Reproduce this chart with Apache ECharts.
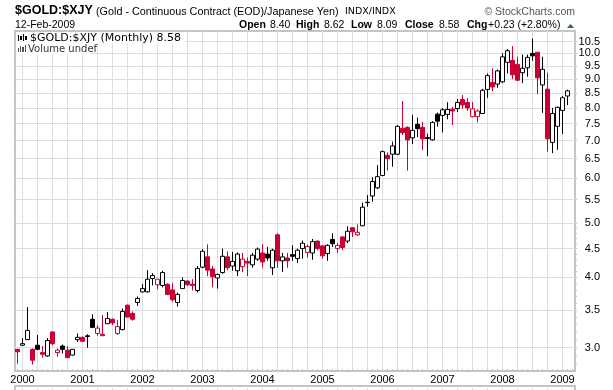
<!DOCTYPE html>
<html>
<head>
<meta charset="utf-8">
<style>html,body{margin:0;padding:0;background:#fff}#chart{width:613px;height:390px}</style>
<script src="https://cdn.jsdelivr.net/npm/echarts@6/dist/echarts.min.js"></script>
</head>
<body>
<div id="chart"></div>
<script>
// monthly bars, Dec 1999 to Feb 2009
const opens = [2.98,3.03,3.10,2.98,3.03,2.94,2.90,3.20,2.94,3.02,2.97,2.91,3.10,3.13,3.14,3.37,3.18,3.17,3.31,3.37,3.18,3.23,3.57,3.45,3.61,3.77,3.77,3.98,3.88,3.87,3.89,3.80,3.61,3.82,3.94,3.89,3.79,4.17,4.35,4.14,3.99,4.08,4.35,4.19,4.11,4.18,4.27,4.21,4.31,4.42,4.40,4.16,4.76,4.28,4.33,4.39,4.32,4.50,4.43,4.42,4.64,4.55,4.41,4.67,4.50,4.72,4.64,4.90,4.76,4.94,5.43,5.58,5.77,6.07,6.59,6.62,6.62,7.36,7.39,7.08,7.48,7.39,7.06,7.02,7.80,7.76,7.79,7.96,7.98,8.28,8.18,7.72,7.72,7.82,8.63,8.88,8.82,8.90,9.64,9.72,9.56,9.24,9.43,10.00,10.05,8.79,8.64,6.95,7.42,7.92,8.40]
const closes = [2.95,3.05,3.22,2.85,2.98,2.92,3.09,3.05,2.97,2.98,2.88,2.98,3.13,3.08,3.15,3.26,3.25,3.15,3.38,3.32,3.27,3.48,3.40,3.37,3.67,3.82,3.97,4.03,3.97,4.08,3.73,3.65,3.73,3.95,3.88,3.87,4.15,4.45,4.12,4.01,4.05,4.36,4.16,4.27,4.40,4.31,4.24,4.38,4.49,4.26,4.33,4.47,4.28,4.35,4.28,4.36,4.47,4.60,4.54,4.63,4.50,4.37,4.56,4.59,4.56,4.52,4.83,4.82,4.81,5.33,5.44,5.92,6.04,6.69,6.50,6.85,7.42,7.23,7.02,7.30,7.35,7.05,7.09,7.54,7.58,7.94,7.95,7.90,8.18,8.10,8.00,7.97,7.90,8.60,9.13,8.72,9.31,9.86,10.11,9.16,8.96,9.41,9.84,9.90,9.05,9.37,7.05,7.82,8.02,8.34,8.58]
const lows = [2.81,3.02,3.10,2.80,2.97,2.88,2.89,3.03,2.89,2.93,2.88,2.905,3.07,3.07,3.00,3.25,3.15,3.15,3.31,3.29,3.16,3.22,3.40,3.35,3.56,3.76,3.76,3.87,3.81,3.84,3.72,3.62,3.55,3.82,3.86,3.79,3.76,4.15,4.02,3.84,3.82,4.06,4.12,4.11,4.02,4.09,4.02,4.16,4.28,4.16,4.28,4.04,4.16,4.09,4.16,4.28,4.24,4.32,4.34,4.30,4.47,4.32,4.28,4.53,4.42,4.47,4.60,4.72,4.74,4.93,5.34,5.45,5.74,6.05,6.19,6.29,6.60,7.16,6.19,6.90,7.10,6.73,6.57,7.00,7.41,7.24,7.64,7.46,7.87,7.97,7.90,7.70,7.54,7.80,8.34,8.57,8.69,8.87,9.21,9.00,8.94,8.85,9.09,9.70,8.46,7.84,6.69,6.65,6.74,7.19,8.09]
const highs = [2.98,3.12,3.54,2.99,3.16,3.02,3.12,3.20,2.99,3.04,3.02,2.98,3.18,3.14,3.17,3.44,3.29,3.43,3.47,3.38,3.36,3.52,3.58,3.48,3.70,3.89,4.12,4.07,3.97,4.11,3.90,3.91,3.76,4.00,3.95,3.97,4.19,4.49,4.58,4.19,4.06,4.50,4.45,4.44,4.43,4.42,4.34,4.42,4.52,4.58,4.53,4.50,4.79,4.42,4.42,4.56,4.50,4.65,4.57,4.68,4.65,4.56,4.58,4.79,4.60,4.73,4.93,4.91,4.97,5.43,5.60,6.02,6.33,6.72,6.67,6.97,7.46,8.23,7.42,7.77,7.69,7.56,7.20,7.58,7.85,8.00,8.19,8.03,8.30,8.43,8.33,8.20,7.95,8.65,9.21,9.41,9.36,10.00,10.18,10.30,9.86,9.95,9.95,10.63,10.05,9.86,9.24,8.00,8.05,8.40,8.62]

const yTicks = [3,3.5,4,4.5,5,5.5,6,6.5,7,7.5,8,8.5,9,9.5,10,10.5]
const yMinorTicks = [2.8,2.9,3,3.1,3.2,3.3,3.4,3.5,3.6,3.7,3.8,3.9,4,4.1,4.2,4.3,4.4,4.5,4.6,4.7,4.8,4.9,5,5.5,6,6.5,7,7.5,8,8.5,9,9.5,10,10.5]
const years = ['2000','2001','2002','2003','2004','2005','2006','2007','2008','2009']

const RED = '#cc0033'
const BLACK = '#000000'
const GRID_DARK = '#c4c4c4'
const GRID_LIGHT = '#dedede'

// one slot per month plus an empty one on the right
const categories = ['1999-12']
years.forEach(y => {
  for (let m = 1; m <= 12; m++) {
    if (y === '2009' && m > 3) break
    categories.push(y + '-' + String(m).padStart(2, '0'))
  }
})

// hollow = up month, filled = down month, red = close under previous close
const candles = opens.map((o, i) => {
  const c = closes[i]
  const prev = i > 0 ? closes[i - 1] : o
  const col = c < prev ? RED : BLACK
  const filled = c < o
  return {
    value: [o, c, lows[i], highs[i]],
    itemStyle: {
      color: filled ? col : '#fff',
      color0: filled ? col : '#fff',
      borderColor: col,
      borderColor0: col,
      borderWidth: 1
    }
  }
})

const isYear = (i, v) => v.endsWith('-01') && v !== '2000-01'
const isQuarter = (i, v) => (i - 1) % 3 === 0

const txt = (x, y, text, font, extra) => ({
  type: 'text', x, y, silent: true, z: 10,
  style: Object.assign({ text, font, fill: '#000', textVerticalAlign: 'middle' }, extra || {})
})
const box = (x, y, width, height, fill) => ({
  type: 'rect', silent: true, z: 9, shape: { x, y, width, height }, style: { fill }
})
const SANS = '"Liberation Sans", Arial, sans-serif'
const VER = '"DejaVu Sans", Verdana, sans-serif'

const chart = echarts.init(document.getElementById('chart'), null, { renderer: 'canvas' })

chart.setOption({
  animation: false,
  backgroundColor: '#fff',
  grid: [
    { left: 15, right: 38, top: 31, height: 340, show: true, borderColor: GRID_DARK, borderWidth: 2 },
    { left: 15, right: 38, top: 386, height: 30, show: true, borderColor: GRID_DARK, borderWidth: 2 }
  ],
  xAxis: [
    {
      type: 'category', data: categories, gridIndex: 0,
      axisLine: { show: false },
      axisTick: { show: true, alignWithLabel: true, inside: true, length: 2, interval: 0, lineStyle: { color: GRID_DARK } },
      axisLabel: {
        interval: (i, v) => v.endsWith('-01'),
        formatter: v => v.slice(0, 4),
        color: '#000', fontSize: 11, fontFamily: 'Liberation Sans', margin: 3,
        hideOverlap: false
      },
      splitLine: { show: true, alignWithLabel: true, interval: isYear, lineStyle: { color: GRID_DARK, width: 1 } }
    },
    {
      type: 'category', data: categories, gridIndex: 0, position: 'bottom',
      axisLine: { show: false }, axisTick: { show: false }, axisLabel: { show: false },
      splitLine: { show: true, alignWithLabel: true, interval: isQuarter, lineStyle: { color: GRID_LIGHT, width: 1 } }
    },
    {
      type: 'category', data: categories, gridIndex: 1, position: 'top',
      axisLine: { show: false }, axisTick: { show: false }, axisLabel: { show: false },
      splitLine: { show: true, alignWithLabel: true, interval: isQuarter, lineStyle: { color: GRID_LIGHT, width: 1 } }
    }
  ],
  yAxis: [
    {
      type: 'log', logBase: 10, min: 2.727, max: 10.96, position: 'right', gridIndex: 0,
      axisLine: { show: false },
      axisTick: { show: false, customValues: yTicks },
      axisLabel: { customValues: yTicks, formatter: v => v.toFixed(1), align: 'right', color: '#000', fontSize: 11, fontFamily: 'Liberation Sans', margin: 25, hideOverlap: false },
      splitLine: { show: true, lineStyle: { color: GRID_LIGHT, width: 1 } }
    },
    {
      type: 'log', logBase: 10, min: 2.727, max: 10.96, position: 'right', gridIndex: 0,
      axisLine: { show: false },
      axisTick: { show: true, length: 2, customValues: yMinorTicks, lineStyle: { color: GRID_DARK } },
      axisLabel: { show: false },
      splitLine: { show: false }
    },
    {
      type: 'value', position: 'left', gridIndex: 1, min: 0, max: 1,
      axisLine: { show: false }, axisTick: { show: false }, axisLabel: { show: false }, splitLine: { show: false }
    }
  ],
  series: [
    {
      name: '$GOLD:$XJY',
      type: 'candlestick',
      xAxisIndex: 0,
      yAxisIndex: 0,
      barWidth: 5,
      data: candles,
      z: 5
    }
  ],
  graphic: [
    txt(15, 11, '$GOLD:$XJY', 'bold 12.5px ' + SANS),
    txt(96, 12, '(Gold - Continuous Contract (EOD)/Japanese Yen)', '10.8px ' + SANS),
    txt(345, 12, 'INDX/INDX', '9.5px ' + VER),
    txt(575, 12, '\u00a9 StockCharts.com', '10.5px ' + SANS, { textAlign: 'right', fill: '#555' }),
    txt(15, 25, '12-Feb-2009', '10.5px ' + SANS),
    txt(239, 25, 'Open', 'bold 10.5px ' + SANS),
    txt(270, 25, '8.40', '10.5px ' + SANS),
    txt(296, 25, 'High', 'bold 10.5px ' + SANS),
    txt(324, 25, '8.62', '10.5px ' + SANS),
    txt(351, 25, 'Low', 'bold 10.5px ' + SANS),
    txt(377, 25, '8.09', '10.5px ' + SANS),
    txt(405, 25, 'Close', 'bold 10.5px ' + SANS),
    txt(439, 25, '8.58', '10.5px ' + SANS),
    txt(467, 25, 'Chg', 'bold 10.5px ' + SANS),
    txt(488, 25, '+0.23 (+2.80%)', '10.5px ' + SANS),
    { type: 'polygon', silent: true, z: 10, shape: { points: [[567, 28], [574, 28], [570.5, 24]] }, style: { fill: '#2e6b2e' } },
    // white mask behind the legend, small marks as its icons
    box(16, 32, 169, 11, '#fff'),
    box(16, 43, 75, 11, '#fff'),
    box(18, 35, 1, 6, '#000'), box(20, 36, 2, 4, '#000'), box(23, 34, 1, 7, '#000'), box(25, 36, 2, 4, '#000'),
    box(18, 48, 1, 4, '#555'), box(20, 46, 1, 6, '#555'), box(22, 47, 2, 5, '#555'), box(25, 45, 1, 7, '#555'),
    txt(30, 38, '$GOLD:$XJY (Monthly) 8.58', '11px ' + VER),
    txt(28, 49, 'Volume undef', '10px ' + VER, { fill: '#333' })
  ]
})
</script>
</body>
</html>
